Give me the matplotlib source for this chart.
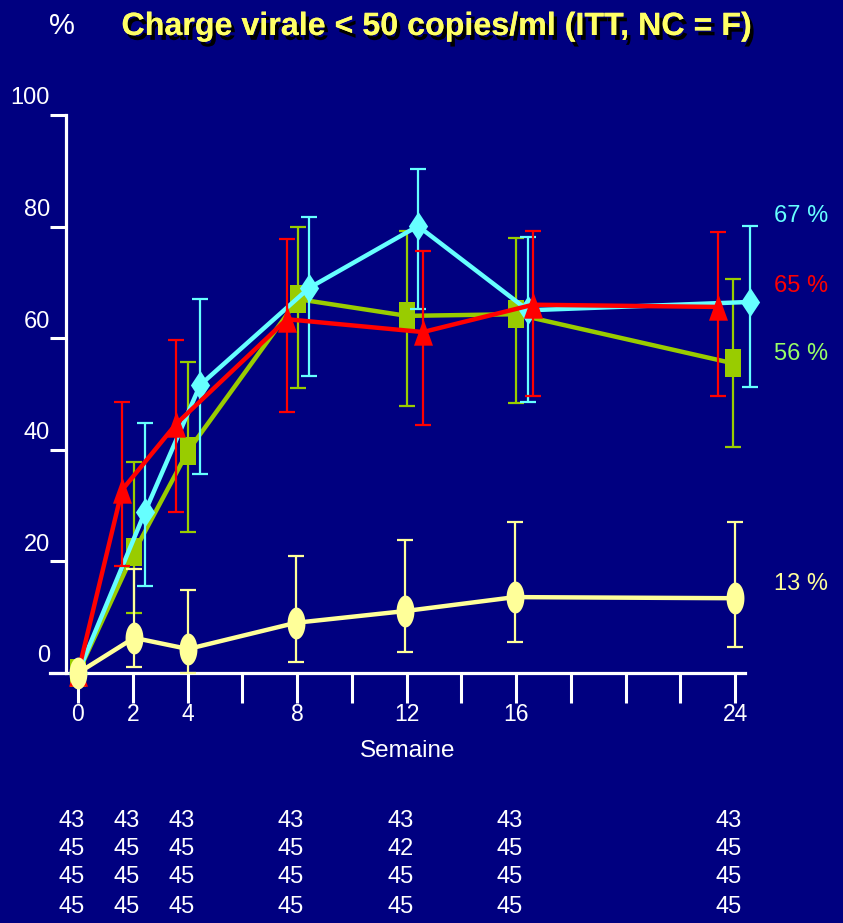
import matplotlib
matplotlib.use('Agg')
import matplotlib.pyplot as plt
from matplotlib.path import Path
from matplotlib.transforms import ScaledTranslation, blended_transform_factory
import matplotlib.patheffects as pe
import numpy as np

FONT = ['Liberation Sans', 'DejaVu Sans']
TITLE_FONT = ['Liberation Sans Narrow', 'Liberation Sans', 'DejaVu Sans']
plt.rcParams['font.family'] = FONT

# ---------------- data ----------------
weeks = [0, 2, 4, 8, 12, 16, 24]
tick_weeks = list(range(0, 25, 2))
y_ticks = [0, 20, 40, 60, 80, 100]

# cyan diamonds
cyan_x = [0, 2.45, 4.46, 8.44, 12.42, 16.44, 24.55]
cyan_y = [0, 28.9, 51.6, 69.0, 80.1, 65.0, 66.5]
cyan_lo = [0, 15.6, 35.7, 53.2, 65.2, 48.6, 51.3]
cyan_hi = [0, 44.8, 67.0, 81.7, 90.3, 78.1, 80.1]

# red triangles
red_x = [0, 1.61, 3.58, 7.63, 12.6, 16.62, 23.38]
red_y = [0, 32.8, 44.6, 63.4, 61.1, 66.0, 65.6]
red_lo = [0, 19.2, 28.9, 46.8, 44.4, 49.6, 49.6]
red_hi = [0, 48.6, 59.7, 77.8, 75.6, 79.2, 79.0]

# green squares
green_x = [0, 2.05, 4.02, 8.04, 12.02, 16.0, 23.93]
green_y = [0, 21.7, 39.8, 67.0, 64.0, 64.3, 55.5]
green_lo = [0, 10.8, 25.3, 51.0, 47.8, 48.4, 40.5]
green_hi = [0, 37.8, 55.7, 80.0, 79.2, 78.0, 70.6]

# yellow ellipses
yellow_x = [0, 2.05, 4.02, 7.96, 11.95, 15.96, 24.0]
yellow_y = [0, 6.3, 4.3, 9.0, 11.1, 13.6, 13.4]
yellow_lo = [0, 1.0, 0.0, 2.0, 3.8, 5.6, 4.7]
yellow_hi = [0, 18.6, 14.9, 21.0, 23.8, 27.1, 27.1]

end_labels = ['67 %', '65 %', '56 %', '13 %']
n_rows = [
    ['43', '43', '43', '43', '43', '43', '43'],
    ['45', '45', '45', '45', '42', '45', '45'],
    ['45', '45', '45', '45', '45', '45', '45'],
    ['45', '45', '45', '45', '45', '45', '45'],
]

# ---------------- style ----------------
BG = '#000080'
C_CYAN = '#66FFFF'
C_RED = '#FF0000'
C_GREEN = '#99CC00'
C_GREEN_TXT = '#99FF66'
C_YEL = '#FFFF99'

W, H = 843, 923
fig = plt.figure(figsize=(W / 100, H / 100), dpi=100, facecolor=BG)
ax = fig.add_axes([0, 0, 1, 1])
ax.set_facecolor(BG)
# pixel mapping: x_px = 78 + 27.375*week ; y_px = 673 - 5.58*value
ax.set_xlim(-78 / 27.375, (W - 78) / 27.375)
ax.set_ylim((673 - H) / 5.58, 673 / 5.58)


def poly_marker(pts):
    pts = list(pts) + [pts[0]]
    codes = [Path.MOVETO] + [Path.LINETO] * (len(pts) - 2) + [Path.CLOSEPOLY]
    return Path(pts, codes)


diamond = poly_marker([(0, 1), (0.66, 0), (0, -1), (-0.66, 0)])
square = poly_marker([(-0.55, -1), (0.55, -1), (0.55, 1), (-0.55, 1)])
triangle = poly_marker([(0, 1), (0.72, -1), (-0.72, -1)])
t = np.linspace(0, 2 * np.pi, 60, endpoint=False)
ellipse = poly_marker(list(zip(0.56 * np.cos(t), np.sin(t))))

series = [
    (green_x, green_y, green_lo, green_hi, C_GREEN, square, 20),
    (cyan_x, cyan_y, cyan_lo, cyan_hi, C_CYAN, diamond, 21),
    (red_x, red_y, red_lo, red_hi, C_RED, triangle, 19),
    (yellow_x, yellow_y, yellow_lo, yellow_hi, C_YEL, ellipse, 23),
]

z = 3
for xs, ys, lo, hi, col, mk, ms in series:
    xs = np.array(xs); ys = np.array(ys); lo = np.array(lo); hi = np.array(hi)
    ax.errorbar(xs[1:], ys[1:], yerr=[ys[1:] - lo[1:], hi[1:] - ys[1:]],
                fmt='none', ecolor=col, elinewidth=1.6, capsize=6, capthick=1.6,
                zorder=z)
    ax.plot(xs, ys, color=col, lw=3.2, marker=mk, markersize=ms,
            markerfacecolor=col, markeredgecolor=col, markeredgewidth=0,
            zorder=z + 1, clip_on=False)
    z += 2

# axes / spines
for s in ['top', 'right']:
    ax.spines[s].set_visible(False)
ax.spines['left'].set_position(('data', -0.44))
ax.spines['left'].set_bounds(0, 100)
ax.spines['bottom'].set_position(('data', 0))
ax.spines['bottom'].set_bounds(-1.02, 24.37)
for s in ['left', 'bottom']:
    ax.spines[s].set_color('white')
    ax.spines[s].set_linewidth(2.3)
    ax.spines[s].set_zorder(2)

ax.set_xticks(tick_weeks)
ax.set_xticklabels([str(w) if w in weeks else '' for w in tick_weeks])
ax.set_yticks(y_ticks)
ax.set_yticklabels([str(v) for v in y_ticks])
ax.tick_params(axis='x', direction='out', length=21.6, width=2.2, colors='white',
               labelsize=16.5, pad=0)
ax.tick_params(axis='y', direction='out', length=11.5, width=2.2, colors='white',
               labelsize=17, pad=0)
for lbl in ax.get_yticklabels():
    lbl.set_transform(lbl.get_transform() + ScaledTranslation(0, 19 / 100, fig.dpi_scale_trans))


def fpx(x, y):
    return x / W, 1 - y / H


# title
title = fig.text(*fpx(437, 27), 'Charge virale < 50 copies/ml (ITT, NC = F)',
                 ha='center', va='center', fontsize=23.2, fontweight='bold', color='#FFFF66',
                 family=TITLE_FONT)
title.set_path_effects([pe.withSimplePatchShadow(offset=(2.5, -3.5), shadow_rgbFace='black', alpha=1),
                        pe.Normal()])
fig.text(*fpx(62, 26), '%', ha='center', va='center', fontsize=21, color='white')

# x axis label
fig.text(*fpx(408, 751), 'Semaine', ha='center', va='center', fontsize=17.5, color='white')

# end labels
end_cols = [C_CYAN, C_RED, C_GREEN_TXT, C_YEL]
end_py = [216, 286, 354, 584]
for txt, col, py in zip(end_labels, end_cols, end_py):
    fig.text(*fpx(774, py), txt, ha='left', va='center', fontsize=17, color=col)

# numbers at bottom
trans = blended_transform_factory(ax.transData, fig.transFigure) + ScaledTranslation(-6 / 100, 0, fig.dpi_scale_trans)
row_py = [821, 849, 877, 907]
for row, py in zip(n_rows, row_py):
    for w, txt in zip(weeks, row):
        ax.text(w, 1 - py / H, txt, transform=trans, ha='center', va='center',
                fontsize=17, color='white')

fig.savefig('out.png', dpi=100, facecolor=BG)
